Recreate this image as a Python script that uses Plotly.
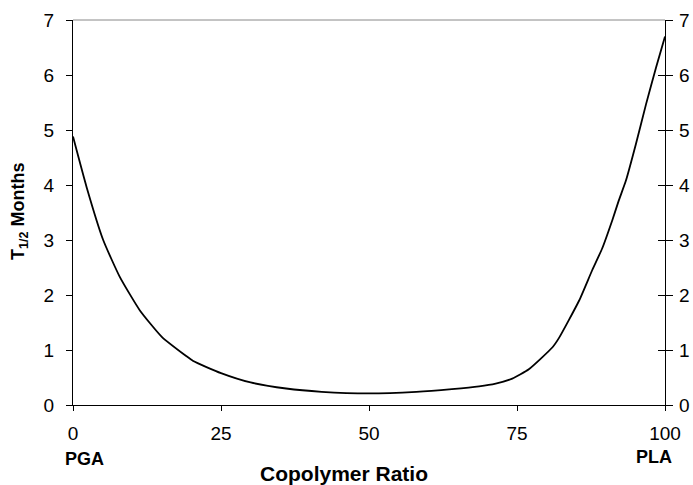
import plotly.graph_objects as go

# Data
ratio = [0, 2.3, 5.1, 7.9, 11.3, 15, 19, 20.3, 25, 30, 36, 42, 50, 58, 64,
         68.6, 71.4, 74.2, 77, 81, 82.1, 85.5, 87.7, 89.4, 91.1, 92.2, 93.4, 95.1,
         96.8, 98.5, 100]
half_life = [4.88, 3.96, 3.0, 2.33, 1.72, 1.24, 0.9, 0.8, 0.58, 0.41,
             0.30, 0.24, 0.21, 0.24, 0.29, 0.34, 0.39, 0.48, 0.65, 1.05, 1.22, 1.9,
             2.45, 2.85, 3.36, 3.72, 4.08, 4.75, 5.47, 6.14, 6.7]
x_ticks = [0, 25, 50, 75, 100]
y_ticks = [0, 1, 2, 3, 4, 5, 6, 7]

FONT = "Arial, Liberation Sans, sans-serif"

fig = go.Figure()
fig.add_trace(go.Scatter(x=ratio, y=half_life, mode="lines",
                         line=dict(color="black", width=1.8, shape="spline", smoothing=0.5),
                         showlegend=False, hoverinfo="skip"))
for ax in ["y2", "y3"]:
    fig.add_trace(go.Scatter(x=ratio, y=half_life, mode="lines", yaxis=ax,
                             line=dict(color="rgba(0,0,0,0)", width=0),
                             showlegend=False, hoverinfo="skip"))

common = dict(showgrid=False, zeroline=False, automargin=False)
fig.update_layout(
    template="none",
    width=693, height=485,
    margin=dict(l=73, r=28, t=20, b=80),
    paper_bgcolor="white", plot_bgcolor="white",
    font=dict(family=FONT, color="black"),
    xaxis=dict(range=[0, 100], tickvals=x_ticks, ticks="outside", ticklen=5,
               tickcolor="black", showline=True, linecolor="black", linewidth=1.2,
               tickfont=dict(size=19), ticklabelstandoff=6, **common),
    yaxis=dict(range=[0, 7], tickvals=y_ticks, ticks="outside", ticklen=6,
               tickcolor="black", showline=True, linecolor="black", linewidth=1.2,
               tickfont=dict(size=19), ticklabelstandoff=8, **common),
    yaxis2=dict(range=[0, 7], tickvals=y_ticks, overlaying="y", side="right",
                ticks="outside", ticklen=7, tickcolor="black", showline=True,
                linecolor="black", linewidth=1.2,
                tickfont=dict(size=19), ticklabelstandoff=2, **common),
    yaxis3=dict(range=[0, 7], tickvals=y_ticks, overlaying="y", side="right",
                ticks="inside", ticklen=7, tickcolor="black", showline=False,
                showticklabels=False, **common),
)

fig.add_shape(type="line", xref="paper", yref="paper", x0=0, x1=1, y0=1, y1=1,
              line=dict(color="#888888", width=1))

fig.add_annotation(text="<b>PGA</b>", xref="paper", yref="paper",
                   x=(84 - 73) / 592, y=-(459 - 405) / 385, showarrow=False,
                   font=dict(size=18, family=FONT), xanchor="center", yanchor="middle")
fig.add_annotation(text="<b>PLA</b>", xref="paper", yref="paper",
                   x=(654 - 73) / 592, y=-(457 - 405) / 385, showarrow=False,
                   font=dict(size=18, family=FONT), xanchor="center", yanchor="middle")
fig.add_annotation(text="<b>Copolymer Ratio</b>", xref="paper", yref="paper",
                   x=(344 - 73) / 592, y=-(473 - 405) / 385, showarrow=False,
                   font=dict(size=21, family=FONT), xanchor="center", yanchor="middle")
fig.add_annotation(text="<b>T<sub>1/2</sub> Months</b>", xref="paper", yref="paper",
                   x=(19 - 73) / 592, y=(405 - 211) / 385, showarrow=False,
                   textangle=-90, font=dict(size=18, family=FONT),
                   xanchor="center", yanchor="middle")

fig.write_html("out.html", config={"displayModeBar": False},
               post_script="document.body.style.margin='0';document.body.style.overflow='hidden';")
